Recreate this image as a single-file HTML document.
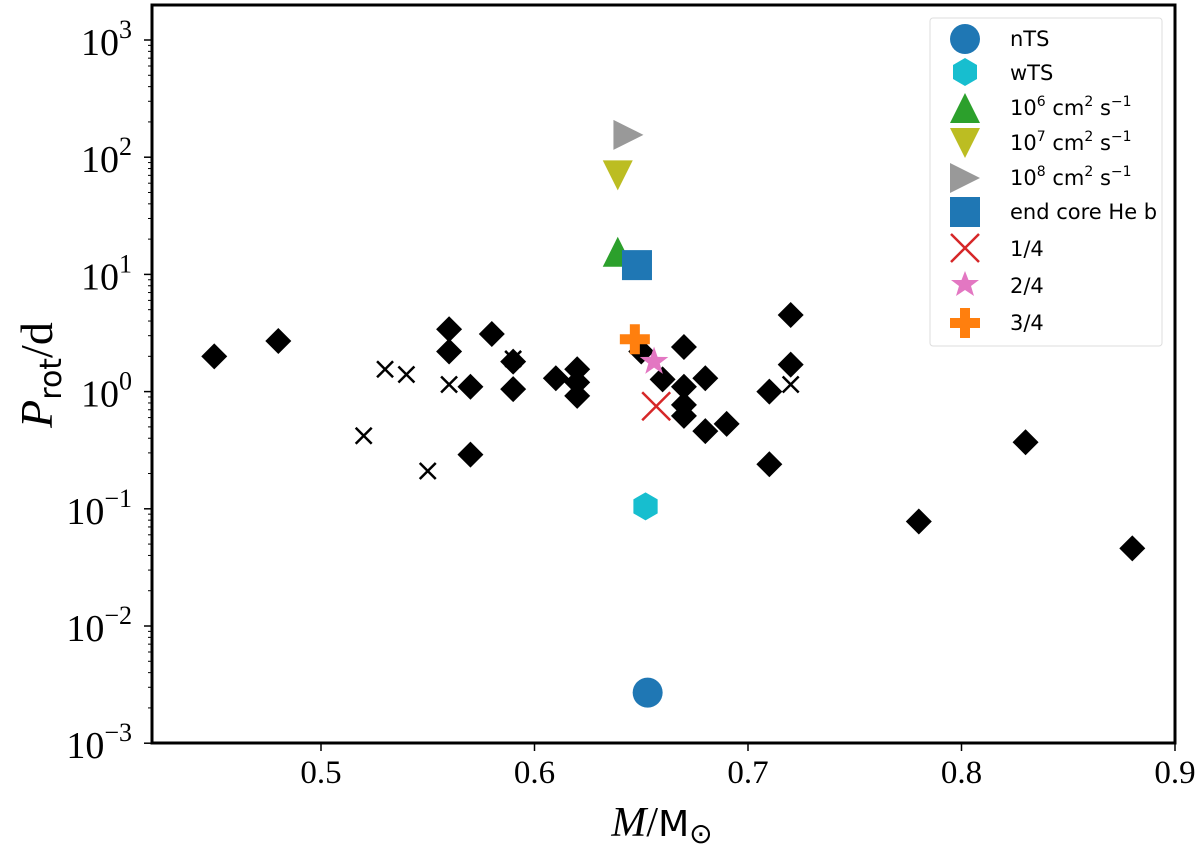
<!DOCTYPE html>
<html><head><meta charset="utf-8"><style>
body{margin:0;background:#fff;}
svg{display:block;}
</style></head><body>
<svg id="chart" width="1200" height="847" viewBox="0 0 1200 847" xmlns="http://www.w3.org/2000/svg" font-family="Liberation Serif,serif">
<g id="marks"></g>
<g id="axes"></g>
</svg>
<script>
const diamondM=[0.45,0.48,0.56,0.56,0.57,0.57,0.58,0.59,0.59,0.61,0.62,0.62,0.62,0.65,0.66,0.67,0.67,0.67,0.67,0.68,0.68,0.69,0.71,0.71,0.72,0.72,0.78,0.83,0.88];
const diamondP=[2.0,2.7,3.4,2.2,0.29,1.1,3.1,1.8,1.05,1.3,1.55,1.2,0.92,2.2,1.27,2.4,1.1,0.77,0.62,0.46,1.3,0.53,1.0,0.24,4.5,1.7,0.078,0.37,0.046];
const crossM=[0.52,0.53,0.54,0.55,0.56,0.59,0.72];
const crossP=[0.42,1.55,1.4,0.21,1.15,1.9,1.15];
const modelNames=["nTS","wTS","1e6","1e7","1e8","endHe","q1","q2","q3"];
const modelM=[0.653,0.652,0.639,0.639,0.644,0.648,0.657,0.656,0.647];
const modelP=[0.0027,0.105,15.6,70,155,12,0.75,1.8,2.8];
const xTicks=[0.5,0.6,0.7,0.8,0.9];
const yTicks=[-3,-2,-1,0,1,2,3];

const NS="http://www.w3.org/2000/svg";
const L=152,R=1175,T=5,B=743;
function X(m){return 321+(m-0.5)*2135;}
function Y(p){return 40+(3-Math.log10(p))*117.2;}
function mk(tag,attrs,parent){const e=document.createElementNS(NS,tag);for(const k in attrs)e.setAttribute(k,attrs[k]);parent.appendChild(e);return e;}
const marks=document.getElementById('marks'),axes=document.getElementById('axes');

function diamond(cx,cy,s,parent){return mk('polygon',{points:`${cx},${cy-s} ${cx+s},${cy} ${cx},${cy+s} ${cx-s},${cy}`,fill:'#000'},parent);}
function cross(cx,cy,s,col,w,parent){return mk('path',{d:`M${cx-s},${cy-s}L${cx+s},${cy+s}M${cx-s},${cy+s}L${cx+s},${cy-s}`,stroke:col,'stroke-width':w,fill:'none'},parent);}
function drawModel(i,cx,cy,parent){
  let e;
  switch(i){
    case 0:e=mk('circle',{cx:cx,cy:cy,r:15,fill:'#1f77b4'},parent);break;
    case 1:{let p=[];for(let k=0;k<6;k++){const a=Math.PI/3*k+Math.PI/6;p.push((cx+14*Math.cos(a))+','+(cy+14*Math.sin(a)));}e=mk('polygon',{points:p.join(' '),fill:'#17becf'},parent);break;}
    case 2:e=mk('polygon',{points:`${cx},${cy-15} ${cx+15},${cy+15} ${cx-15},${cy+15}`,fill:'#2ca02c'},parent);break;
    case 3:e=mk('polygon',{points:`${cx-15},${cy-15} ${cx+15},${cy-15} ${cx},${cy+15}`,fill:'#bcbd22'},parent);break;
    case 4:e=mk('polygon',{points:`${cx-15},${cy-15} ${cx+15},${cy} ${cx-15},${cy+15}`,fill:'#999'},parent);break;
    case 5:e=mk('rect',{x:cx-15,y:cy-15,width:30,height:30,fill:'#1f77b4'},parent);break;
    case 6:e=cross(cx,cy,14,'#d62728',2.5,parent);break;
    case 7:{let p=[];for(let k=0;k<10;k++){const a=-Math.PI/2+Math.PI/5*k,r=k%2?6:15;p.push((cx+r*Math.cos(a))+','+(cy+r*Math.sin(a)));}e=mk('polygon',{points:p.join(' '),fill:'#e377c2'},parent);break;}
    case 8:e=mk('path',{d:`M${cx-5},${cy-15}h10v10h10v10h-10v10h-10v-10h-10v-10h10z`,fill:'#ff7f0e'},parent);break;
  }
  return e;
}

diamondM.forEach((m,i)=>{const e=diamond(X(m),Y(diamondP[i]),13,marks);

});
crossM.forEach((m,i)=>{const e=cross(X(m),Y(crossP[i]),8,'#000',2.5,marks);

});
modelM.forEach((m,i)=>{const e=drawModel(i,X(m),Y(modelP[i]),marks);

});

const fr=mk('rect',{x:L,y:T,width:R-L,height:B-T,fill:'none',stroke:'#000','stroke-width':3},axes);


xTicks.forEach(v=>{const x=X(v);mk('line',{x1:x,x2:x,y1:B,y2:B+8,stroke:'#000','stroke-width':1.5},axes);
const t=mk('text',{x:x,y:B+40,'text-anchor':'middle','font-size':33},axes);t.textContent=v.toFixed(1);

});
yTicks.forEach(v=>{const y=Y(Math.pow(10,v));mk('line',{x1:L-8,x2:L,y1:y,y2:y,stroke:'#000','stroke-width':1.5},axes);
if(v<3)for(let k=2;k<10;k++){const yy=Y(k*Math.pow(10,v));mk('line',{x1:L-4,x2:L,y1:yy,y2:yy,stroke:'#000','stroke-width':1},axes);}
const t=mk('text',{x:132,y:y+15,'text-anchor':'end','font-size':38},axes);
t.innerHTML='10<tspan dy="-17" font-size="26">'+(v<0?'\u2212'+(-v):v)+'</tspan>';

});
</script>
<svg style="position:absolute;left:0;top:0" width="1200" height="847">
<text x="662" y="836" text-anchor="middle" font-size="42" font-family="Liberation Serif,serif"><tspan font-style="italic">M</tspan>/<tspan font-family="DejaVu Sans,sans-serif" font-size="36">M</tspan><tspan font-size="28" dy="7">⊙</tspan></text>
<text transform="translate(52,375) rotate(-90)" text-anchor="middle" font-size="46" font-family="Liberation Serif,serif"><tspan font-style="italic">P</tspan><tspan font-size="30" dy="9" font-family="DejaVu Sans,sans-serif">rot</tspan><tspan dy="-9">/d</tspan></text>
<g font-family="DejaVu Sans,sans-serif" font-size="21">
<rect x="930" y="18" width="232" height="328" rx="3" fill="#fff" stroke="#ddd" stroke-width="1"/>
<circle cx="965" cy="39" r="15" fill="#1f77b4"/><text x="1010" y="46">nTS</text>
<polygon points="965,58 977,65 977,79 965,86 953,79 953,65" fill="#17becf"/><text x="1010" y="80">wTS</text>
<polygon points="965,93 980,123 950,123" fill="#2ca02c"/><text x="1010" y="115">10<tspan dy="-9" font-size="14">6</tspan><tspan dy="9"> cm</tspan><tspan dy="-9" font-size="14">2</tspan><tspan dy="9"> s</tspan><tspan dy="-9" font-size="14">−1</tspan></text>
<polygon points="950,128 980,128 965,158" fill="#bcbd22"/><text x="1010" y="150">10<tspan dy="-9" font-size="14">7</tspan><tspan dy="9"> cm</tspan><tspan dy="-9" font-size="14">2</tspan><tspan dy="9"> s</tspan><tspan dy="-9" font-size="14">−1</tspan></text>
<polygon points="950,163 980,178 950,193" fill="#999"/><text x="1010" y="185">10<tspan dy="-9" font-size="14">8</tspan><tspan dy="9"> cm</tspan><tspan dy="-9" font-size="14">2</tspan><tspan dy="9"> s</tspan><tspan dy="-9" font-size="14">−1</tspan></text>
<rect x="950" y="197" width="30" height="30" fill="#1f77b4"/><text x="1010" y="219">end core He b</text>
<path d="M951,234L979,262M951,262L979,234" stroke="#d62728" stroke-width="2.5"/><text x="1010" y="256">1/4</text>
<polygon points="965,271 968.5,280 979,280 971,286 974,296 965,290 956,296 959,286 951,280 961.5,280" fill="#e377c2"/><text x="1010" y="293">2/4</text>
<path d="M960,308h10v10h10v10h-10v10h-10v-10h-10v-10h10z" fill="#ff7f0e"/><text x="1010" y="330">3/4</text>
</g>
</svg>
</body></html>
